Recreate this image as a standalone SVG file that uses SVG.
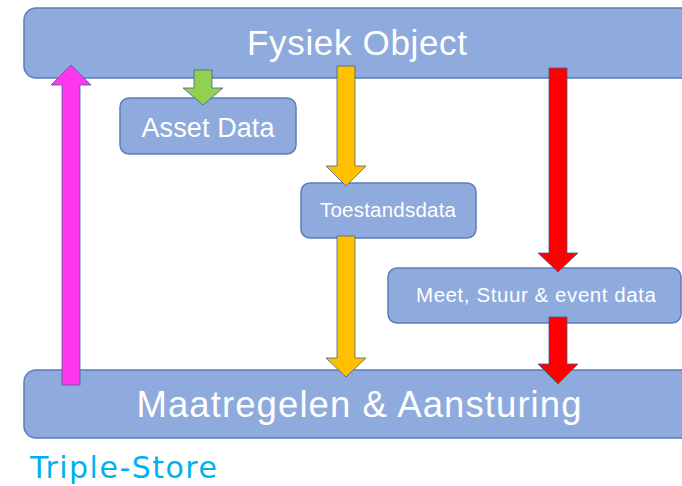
<svg xmlns="http://www.w3.org/2000/svg" width="682" height="486" viewBox="0 0 682 486">
<style>
.box{fill:#8FAADC;stroke:#5B7DBB;stroke-width:1.5}
.lbl{font-family:"Liberation Sans",Arial,sans-serif;fill:#FFFFFF;text-anchor:middle}
.arr{stroke:#3F5F9A;stroke-width:0.8;stroke-linejoin:miter}
</style>
<rect width="682" height="486" fill="#FFFFFF"/>
<g id="fysiek-object">
<rect class="box" x="24" y="8" width="700" height="70" rx="12"/>
<text class="lbl" x="357" y="55" font-size="35" textLength="220">Fysiek Object</text>
</g>
<g id="asset-data">
<rect class="box" x="120" y="98" width="176" height="56" rx="9"/>
<text class="lbl" x="208" y="137" font-size="27" textLength="133">Asset Data</text>
</g>
<g id="toestandsdata">
<rect class="box" x="301" y="183" width="175" height="55" rx="9"/>
<text class="lbl" x="388" y="217" font-size="20.5" textLength="136">Toestandsdata</text>
</g>
<g id="meet-stuur-event">
<rect class="box" x="388" y="268" width="293" height="55" rx="9"/>
<text class="lbl" x="536" y="302" font-size="20.5" textLength="240">Meet, Stuur &amp; event data</text>
</g>
<g id="maatregelen">
<rect class="box" x="24" y="370" width="700" height="68" rx="12"/>
<text class="lbl" x="359" y="417" font-size="36.5" textLength="445">Maatregelen &amp; Aansturing</text>
</g>
<g id="triple-store">
<text x="30" y="478" font-family="DejaVu Sans,Verdana,sans-serif" font-size="30" fill="#00B0F0" textLength="187">Triple-Store</text>
</g>
<g id="connectors">
<polygon class="arr" fill="#FF36EE" points="62,385 80,385 80,85 91,85 71,65 51,85 62,85"/>
<polygon class="arr" fill="#92D050" points="194,70 212,70 212,88 223,88 203,105 183,88 194,88"/>
<polygon class="arr" fill="#FFC000" points="337,66 355,66 355,166 366,166 346,186 326,166 337,166"/>
<polygon class="arr" fill="#FFC000" points="337,236 355,236 355,358 366,358 346,377 326,358 337,358"/>
<polygon class="arr" fill="#FF0000" points="549,68 567,68 567,253 578,253 558,272 538,253 549,253"/>
<polygon class="arr" fill="#FF0000" points="549,317 567,317 567,364 578,364 558,384 538,364 549,364"/>
</g>
</svg>
